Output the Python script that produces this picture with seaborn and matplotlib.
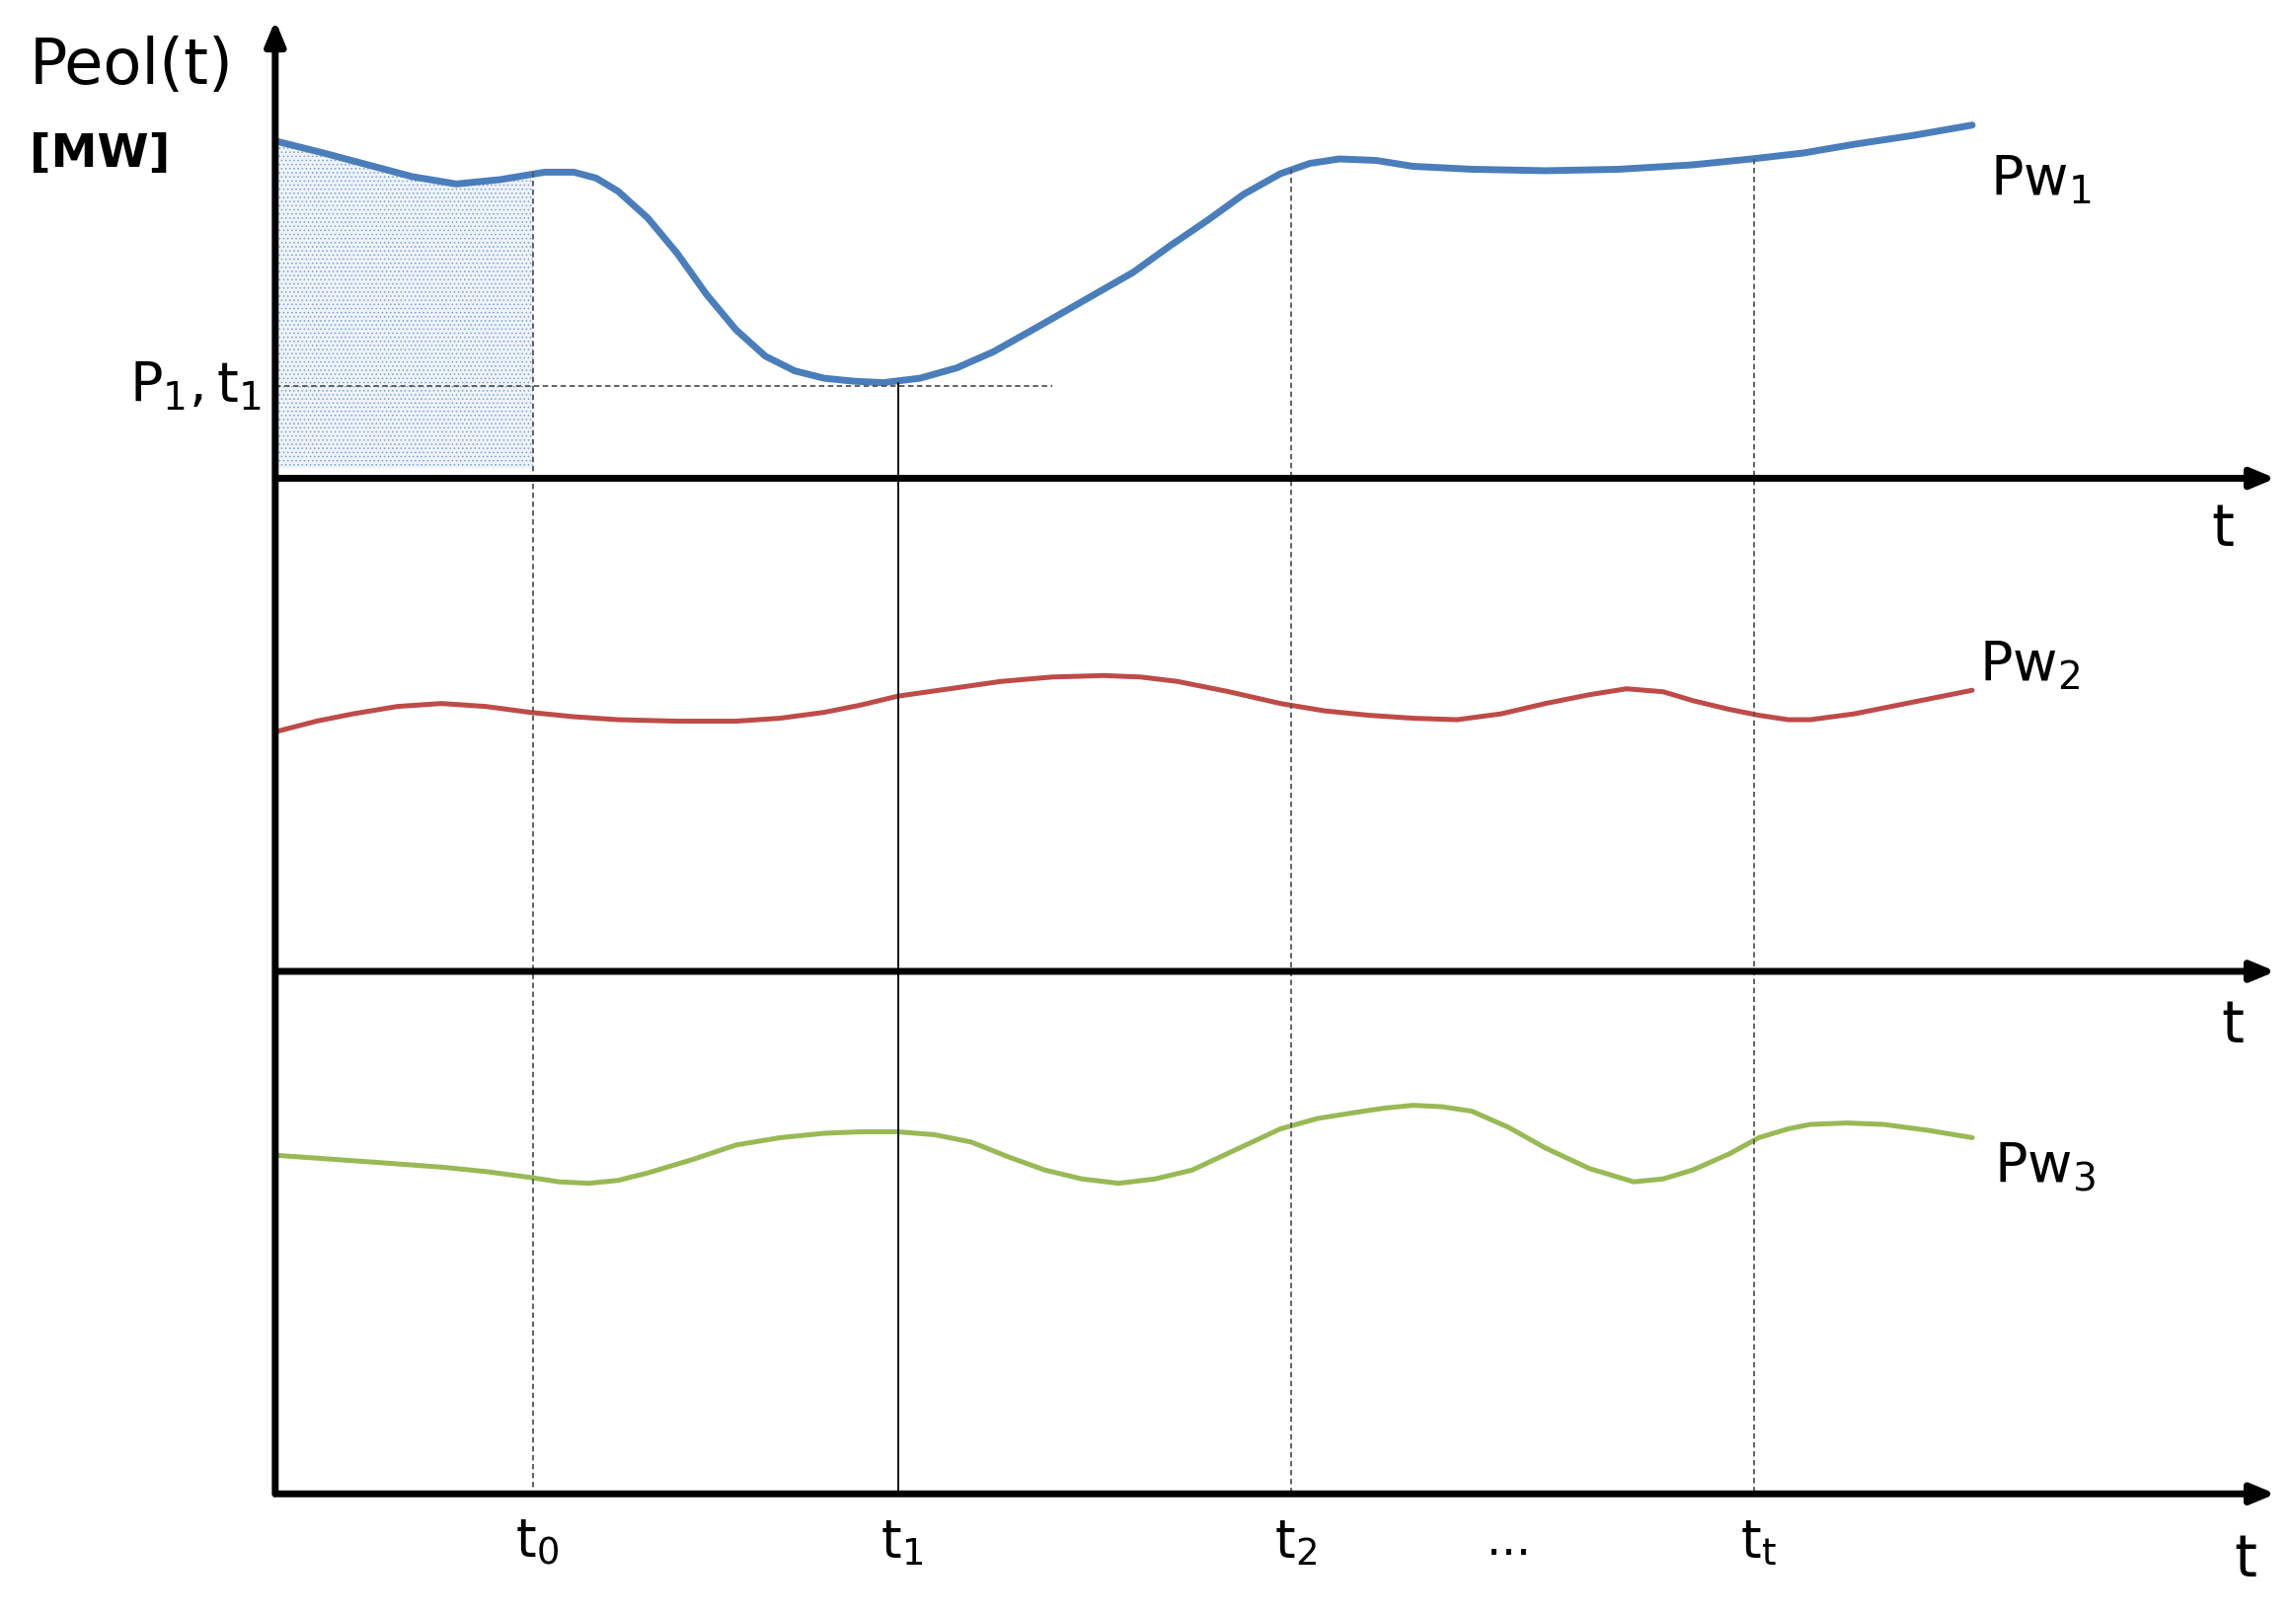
import matplotlib
matplotlib.use("Agg")
import matplotlib.pyplot as plt
import seaborn as sns

sns.set_theme(style="white")
plt.rcParams['font.family'] = ['DejaVu Sans']
plt.rcParams['mathtext.fontset'] = 'dejavusans'
plt.rcParams['text.color'] = 'black'

# Curves (x, y in picture units; y grows downward)
pw1_x = [188,220,250,280,310,340,370,390,405,420,440,460,480,500,520,540,560,580,600,625,650,675,700,735,770,795,820,845,870,890,910,935,960,1000,1050,1100,1150,1190,1225,1260,1300,1340]
pw1_y = [96,104,112,120,125,122,117,117,121,130,148,172,200,224,242,252,257,259,260,257,250,239,225,205,185,167,150,132,118,111,108,109,113,115,116,115,112,108,104,98,92,85]
pw2_x = [188,215,240,270,300,330,360,390,420,460,500,530,560,585,610,645,680,715,750,775,800,835,870,900,930,960,990,1020,1050,1080,1105,1130,1150,1175,1195,1215,1230,1260,1290,1315,1340]
pw2_y = [497,490,485,480,478,480,484,487,489,490,490,488,484,479,473,468,463,460,459,460,463,470,478,483,486,488,489,485,478,472,468,470,476,482,486,489,489,485,479,474,469]
pw3_x = [188,245,300,330,360,380,400,420,440,470,500,530,560,585,610,635,660,685,710,735,760,785,810,840,870,895,920,940,960,980,1000,1025,1050,1080,1110,1130,1150,1175,1195,1215,1230,1255,1280,1310,1340]
pw3_y = [785,789,793,796,800,803,804,802,797,788,778,773,770,769,769,771,776,786,795,801,804,801,795,781,767,760,756,753,751,752,755,766,780,794,803,801,795,784,773,767,764,763,764,768,773]
tick_x = [362, 610, 877, 1192]
tick_labels = [r"$\mathregular{t_0}$", r"$\mathregular{t_1}$", r"$\mathregular{t_2}$", r"$\mathregular{t_t}$"]
curve_top = [117, 260, 115, 108]
series_labels = [r"$\mathregular{Pw_1}$", r"$\mathregular{Pw_2}$", r"$\mathregular{Pw_3}$"]
p1_level = 262

fig = plt.figure(figsize=(23.26, 16.37), dpi=100)
ax = fig.add_axes([0, 0, 1, 1])
ax.set_xlim(0, 1560)
ax.set_ylim(1098, 0)
ax.axis("off")

sns.lineplot(x=pw1_x, y=pw1_y, ax=ax, color="#4a7ebb", lw=5, sort=False)
sns.lineplot(x=pw2_x, y=pw2_y, ax=ax, color="#be4b48", lw=3.6, sort=False)
sns.lineplot(x=pw3_x, y=pw3_y, ax=ax, color="#98b954", lw=3.6, sort=False)

# dotted area
fx = [x for x in pw1_x if x <= 362] + [362]
fy = [pw1_y[i] for i, x in enumerate(pw1_x) if x <= 362] + [117]
plt.rcParams['hatch.color'] = '#4a7ebb'
plt.rcParams['hatch.linewidth'] = 0.6
ax.fill_between(fx, fy, 318, facecolor="#eef3fa", hatch="....", edgecolor="#7a9fd0", lw=0)

# axes arrows
for yb, xe in [(325, 1548), (660, 1548), (1015, 1548)]:
    ax.annotate("", xy=(xe, yb), xytext=(187, yb),
                arrowprops=dict(arrowstyle="-|>,head_length=1.2,head_width=0.5", lw=5, color="black"))
ax.annotate("", xy=(187, 12), xytext=(187, 1017),
            arrowprops=dict(arrowstyle="-|>,head_length=1.2,head_width=0.5", lw=5, color="black"))

# guide lines
for i, (x, top) in enumerate(zip(tick_x, curve_top)):
    ls = "-" if i == 1 else (0, (3, 2))
    ax.plot([x, x], [top, 1015], color="black" if i == 1 else "#555555", lw=1.3, ls=ls)
    ax.text(x + 3, 1048, tick_labels[i], fontsize=38, ha="center", va="center")
ax.plot([187, 715], [p1_level, p1_level], color="#555555", lw=1.3, ls=(0, (3, 2)))
ax.text(1025, 1048, "...", fontsize=34, ha="center", va="center")

ax.text(1510, 360, "t", fontsize=42, ha="center", va="center")
ax.text(1517, 697, "t", fontsize=42, ha="center", va="center")
ax.text(1526, 1060, "t", fontsize=42, ha="center", va="center")

ax.text(1352, 122, series_labels[0], fontsize=40, ha="left", va="center")
ax.text(1345, 452, series_labels[1], fontsize=40, ha="left", va="center")
ax.text(1355, 793, series_labels[2], fontsize=40, ha="left", va="center")

ax.text(20, 45, "Peol(t)", fontsize=46, ha="left", va="center")
ax.text(20, 105, "[MW]", fontsize=34, ha="left", va="center", fontweight="bold")
ax.text(178, 262, r"$\mathregular{P_1,t_1}$", fontsize=40, ha="right", va="center")

fig.savefig("out.png", dpi=100, facecolor="white")
